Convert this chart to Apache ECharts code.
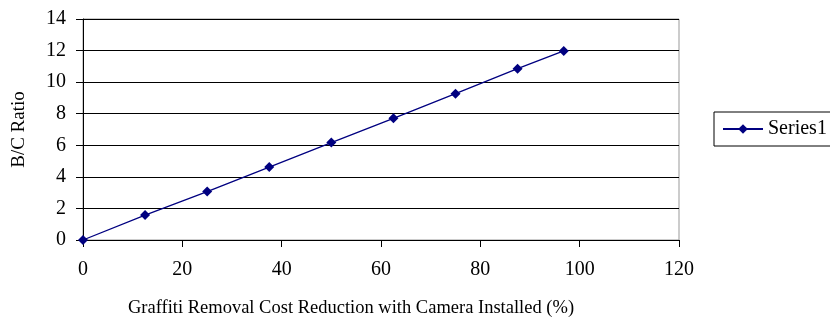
<!DOCTYPE html>
<html>
<head>
<meta charset="utf-8">
<script src="https://cdn.jsdelivr.net/npm/echarts@6/dist/echarts.min.js"></script>
<style>
  html, body { margin: 0; padding: 0; background: #fff; }
  #chart { width: 830px; height: 323px; }
</style>
</head>
<body>
<div id="chart"></div>
<script>
// Cost reduction (%) against benefit/cost ratio
var costReduction = [0, 12.5, 25, 37.5, 50, 62.5, 75, 87.5, 96.8];
var bcRatio = [0, 1.58, 3.07, 4.62, 6.17, 7.71, 9.27, 10.85, 11.98];
var seriesName = 'Series1';
var xTitle = 'Graffiti Removal Cost Reduction with Camera Installed (%)';
var yTitle = 'B/C Ratio';

var points = costReduction.map(function (x, i) { return [x, bcRatio[i]]; });
var serif = '"Liberation Serif", "Times New Roman", serif';

var chart = echarts.init(document.getElementById('chart'), null, { renderer: 'canvas' });
chart.setOption({
  animation: false,
  backgroundColor: '#fff',
  grid: {
    left: 83, right: 151, top: 19, bottom: 83,
    show: true, borderColor: '#999', borderWidth: 1
  },
  legend: {
    show: true,
    left: 714, top: 112,
    padding: [7, 4, 7, 8],
    itemWidth: 40, itemHeight: 12, itemGap: 5,
    borderColor: '#000', borderWidth: 1,
    textStyle: { fontFamily: serif, fontSize: 20, color: '#000', padding: [0, 0, 0, 0] },
    data: [seriesName]
  },
  xAxis: {
    type: 'value', min: 0, max: 120, interval: 20,
    name: xTitle, nameLocation: 'middle', nameGap: 59,
    nameTextStyle: { fontFamily: serif, fontSize: 18.5, color: '#000', padding: [0, 60, 0, 0] },
    axisLine: { show: true, onZero: false, lineStyle: { color: '#000', width: 1 } },
    axisTick: { show: true, inside: false, length: 7, lineStyle: { color: '#000' } },
    axisLabel: { fontFamily: serif, fontSize: 20, color: '#000', margin: 20 },
    splitLine: { show: false }
  },
  yAxis: {
    type: 'value', min: 0, max: 14, interval: 2,
    name: yTitle, nameLocation: 'middle', nameGap: 54,
    nameTextStyle: { fontFamily: serif, fontSize: 19, color: '#000' },
    axisLine: { show: true, lineStyle: { color: '#000', width: 1 } },
    axisTick: { show: true, inside: false, length: 7, lineStyle: { color: '#000' } },
    axisLabel: { fontFamily: serif, fontSize: 20, color: '#000', margin: 17 },
    splitLine: { show: true, lineStyle: { color: '#000', width: 1 } }
  },
  series: [{
    name: seriesName,
    type: 'line',
    data: points,
    symbol: 'diamond',
    symbolSize: 10,
    showAllSymbol: true,
    lineStyle: { color: '#000080', width: 1.3 },
    itemStyle: { color: '#000080' }
  }]
});
</script>
</body>
</html>
